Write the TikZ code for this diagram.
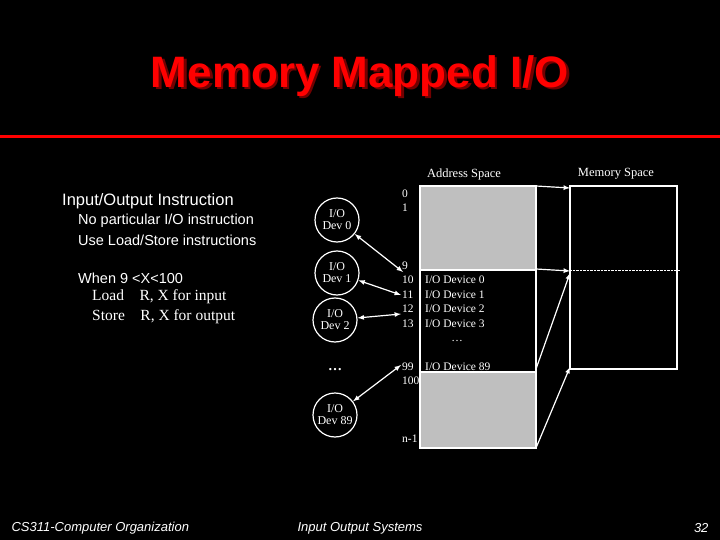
\documentclass[tikz,border=0pt]{standalone}
\usepackage{fontspec}
\setmainfont{Liberation Serif}
\newfontfamily\arial{Liberation Sans}
\begin{document}
\begin{tikzpicture}[x=1pt,y=-1pt,
  ser/.style={font=\fontsize{11.5}{12}\selectfont, text=white, inner sep=0pt},
  dev/.style={circle, draw=white, line width=1.2pt, minimum size=44pt, inner sep=0pt, align=center, text=white, font=\fontsize{12}{12}\selectfont},
  bi/.style={white, line width=1.2pt, <->, >=latex},
  ar/.style={white, line width=1.2pt, ->, >=latex},
  lt/.style={text=white, anchor=west, inner sep=0pt, font=\arial\fontsize{14.5}{14}\selectfont},
  ttl/.style={font=\arial\bfseries\fontsize{44}{44}\selectfont}]
\fill[black] (0,0) rectangle (720,540);
\useasboundingbox (0,0) rectangle (720,540);
% title
\node[ttl, text=black!55!red] at (362.5,78.5) {Memory Mapped I/O};
\node (title) [ttl, text=red] at (360,76) {Memory Mapped I/O};
\fill[red] (0,135.5) rectangle (720,138.5);
% left text
\node[lt, font=\arial\fontsize{16.5}{16}\selectfont] (t1) at (62,201) {Input/Output Instruction};
\node[lt] (t2) at (78,221) {No particular I/O instruction};
\node[lt] (t3) at (78,240) {Use Load/Store instructions};
\node[lt] (t4) at (78,278) {When 9 <X<100};
\node[lt, font=\fontsize{15.5}{15}\selectfont] (t5) at (92,297) {Load\quad R, X for input};
\node[lt, font=\fontsize{15.5}{15}\selectfont] (t6) at (92,317) {Store\quad R, X for output};
% address space
\node[ser, font=\fontsize{12.5}{12}\selectfont] (ah) at (464,174) {Address Space};
\node[ser, font=\fontsize{12.5}{12}\selectfont] (mh) at (616,174) {Memory Space};
\fill[black!25] (420,186) rectangle (536,270);
\fill[black!25] (420,372) rectangle (536,448);
\draw[white, line width=1.2pt] (420,186) rectangle (536,448);
\draw[white, line width=1.2pt] (420,270) -- (536,270) (420,372) -- (536,372);
\draw[white, line width=1.2pt] (570,186) rectangle (677,369);
\draw[white, densely dotted] (570,270) -- (680,270);
\coordinate (a0) at (536,186); \coordinate (a1) at (536,269);
\coordinate (a2) at (536,369); \coordinate (a3) at (536,448);
\coordinate (m0) at (570,188); \coordinate (m1) at (570,271);
\coordinate (m2) at (570,273); \coordinate (m3) at (570,367);
\draw[ar] (a0) -- (m0); \draw[ar] (a1) -- (m1);
\draw[ar] (a2) -- (m2); \draw[ar] (a3) -- (m3);
% address labels
\foreach \n/\t/\y in {l0/0/194, l1/1/208, l9/9/266, l10/10/280, l11/11/295, l12/12/309, l13/13/324, l99/99/367, l100/100/381, ln/n-1/439}
  \node[ser, anchor=west] (\n) at (402,\y) {\t};
\foreach \n/\t/\y in {d0/0/280, d1/1/295, d2/2/309, d3/3/324, d89/89/367}
  \node[ser, anchor=west] (\n) at (425,\y) {I/O Device \t};
\node[ser] (dd) at (457,341) {\dots};
% devices
\node[dev] (c0) at (337,220) {I/O\\Dev 0};
\node[dev] (c1) at (337,273) {I/O\\Dev 1};
\node[dev] (c2) at (335,320) {I/O\\Dev 2};
\node[ser, font=\bfseries\fontsize{14}{14}\selectfont] (cd) at (335,370) {\dots};
\node[dev] (c89) at (335,415) {I/O\\Dev 89};
\coordinate (p0) at (403,272); \coordinate (p1) at (401,295);
\coordinate (p2) at (401,314); \coordinate (p89) at (401,365);
\draw[bi] (c0) -- (p0); \draw[bi] (c1) -- (p1);
\draw[bi] (c2) -- (p2); \draw[bi] (c89) -- (p89);
% footer
\node[text=white, anchor=west, font=\arial\itshape\fontsize{13}{13}\selectfont] (f1) at (8,528) {CS311-Computer Organization};
\node[text=white, font=\arial\itshape\fontsize{13}{13}\selectfont] (f2) at (360,528) {Input Output Systems};
\node[text=white, anchor=east, font=\arial\itshape\fontsize{13}{13}\selectfont] (f3) at (712,528) {32};
\end{tikzpicture}
\end{document}
